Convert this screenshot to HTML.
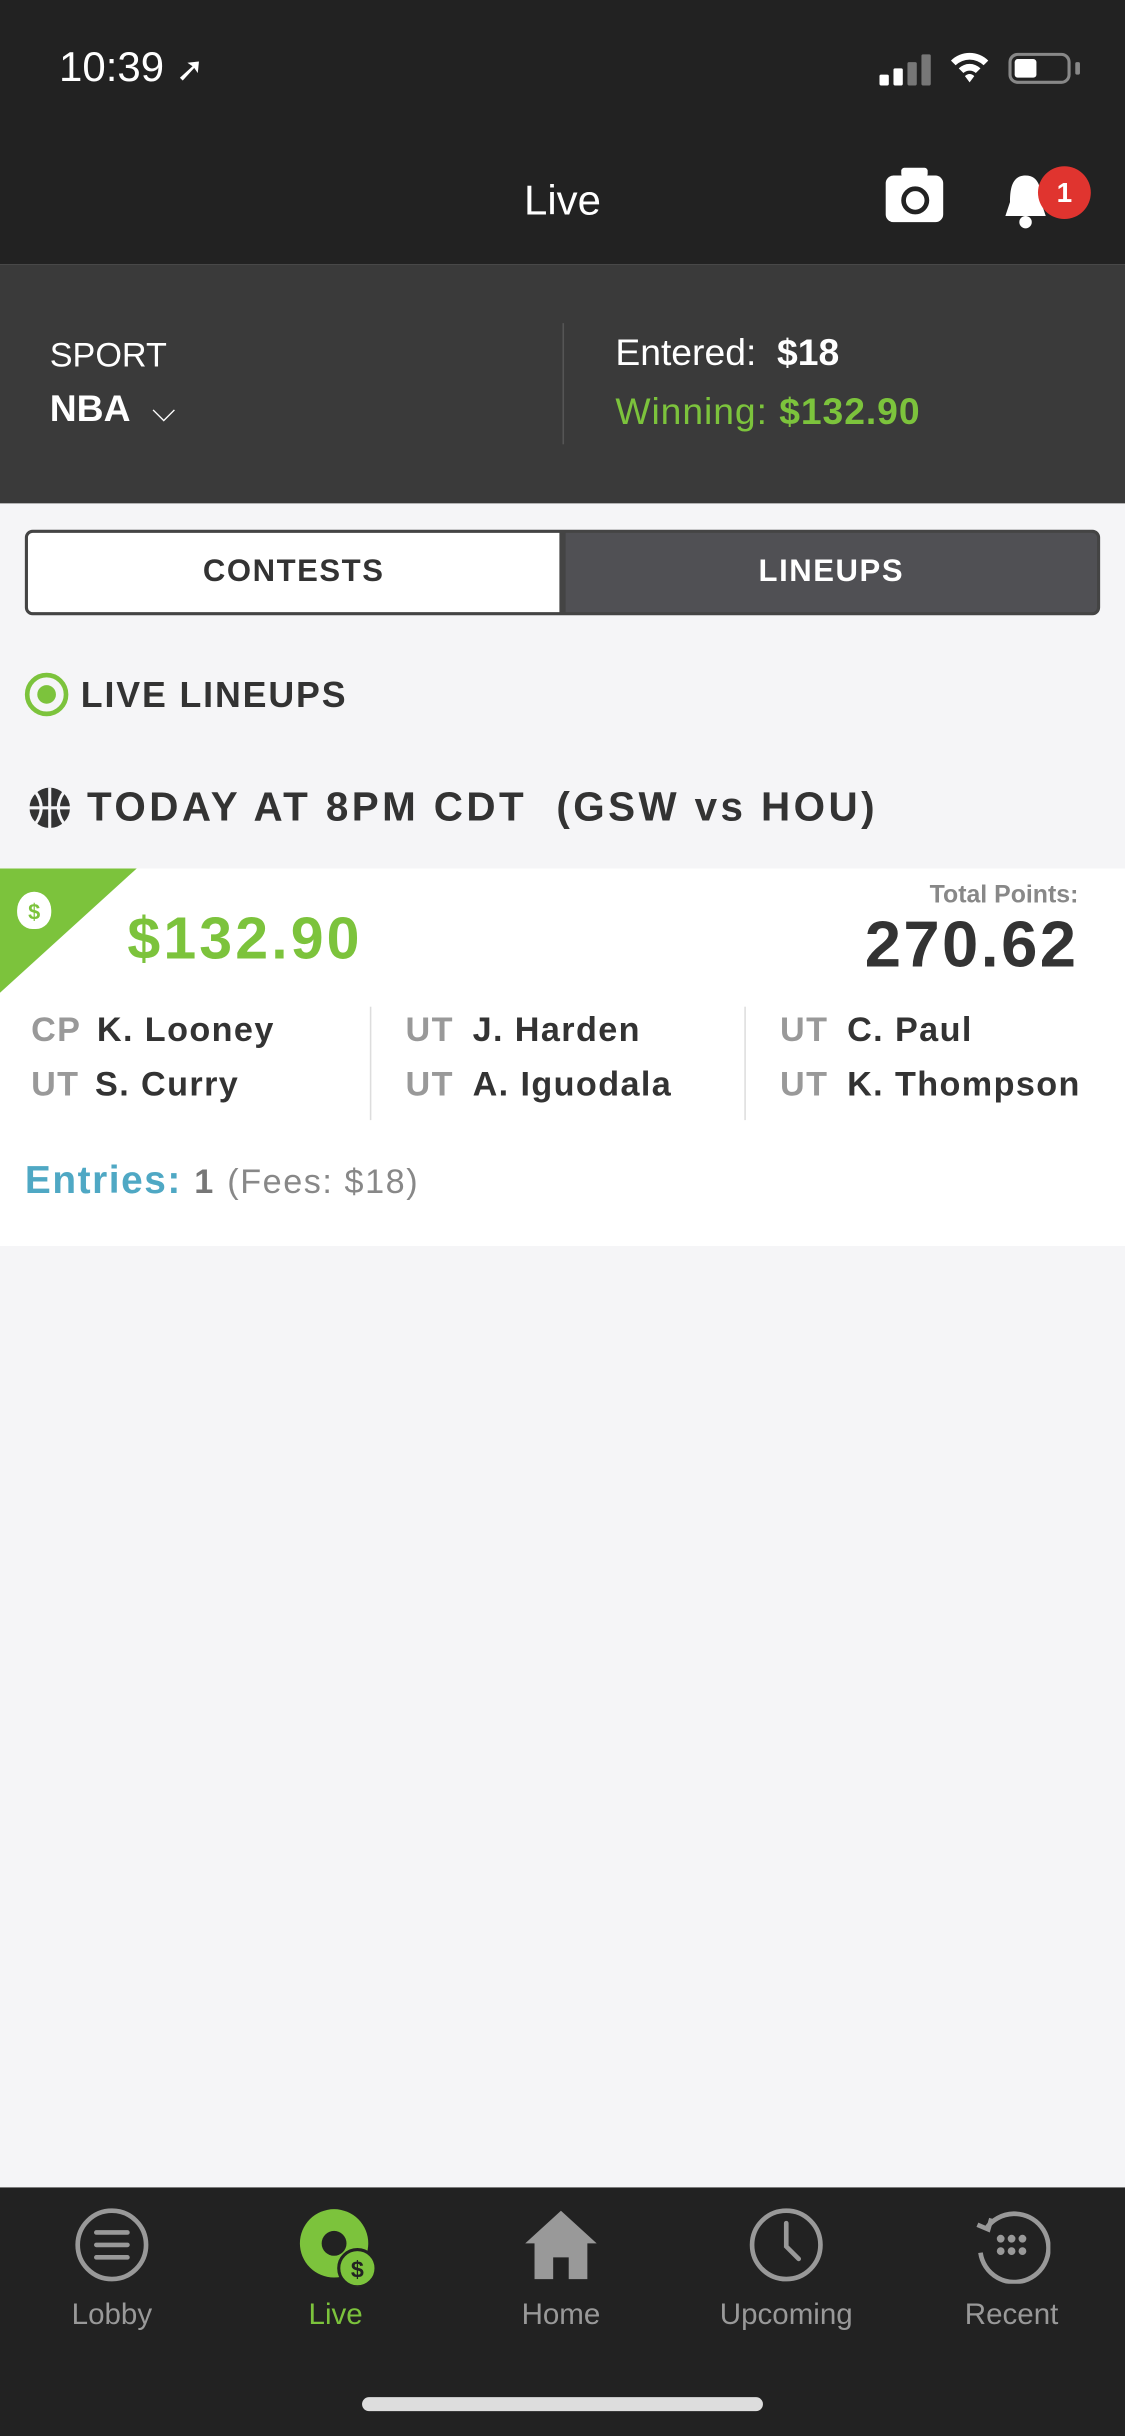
<!DOCTYPE html>
<html><head><meta charset="utf-8">
<style>
html,body{margin:0;padding:0;width:1125px;height:2436px;overflow:hidden;background:#f5f5f7;}
#root{position:absolute;left:0;top:0;width:724px;height:1568px;transform:scale(1.55387,1.55357);transform-origin:0 0;font-family:"Liberation Sans",sans-serif;background:#f5f5f7;}
.abs{position:absolute;}
.b{font-weight:bold;}
</style></head><body>
<div id="root">
  <div class="abs" style="left:0;top:0;width:724px;height:170px;background:#222;"></div>
  <div class="abs" style="left:38px;top:28px;color:#fff;font-size:27px;">10:39 <span style="font-size:22px">➚</span></div>
  <div class="abs" style="left:566px;top:34px;width:36px;height:22px;">
    <div class="abs" style="left:0;top:14px;width:6px;height:7px;background:#fff;border-radius:1px"></div>
    <div class="abs" style="left:9px;top:10px;width:6px;height:11px;background:#fff;border-radius:1px"></div>
    <div class="abs" style="left:18px;top:6px;width:6px;height:15px;background:#777;border-radius:1px"></div>
    <div class="abs" style="left:27px;top:1px;width:6px;height:20px;background:#777;border-radius:1px"></div>
  </div>
  <div class="abs" style="left:610px;top:30px;color:#fff;font-size:24px;">
    <svg width="28" height="24"><path d="M2 9 A17 17 0 0 1 26 9 L23 12 A13 13 0 0 0 5 12Z M7 14 A10 10 0 0 1 21 14 L18 17 A6 6 0 0 0 10 17Z M11 19 L14 23 L17 19 A4 4 0 0 0 11 19Z" fill="#fff"/></svg></div>
  <div class="abs" style="left:649px;top:34px;width:40px;height:20px;border:2px solid #888;border-radius:6px;box-sizing:border-box;">
    <div class="abs" style="left:2px;top:2px;width:14px;height:12px;background:#fff;border-radius:2px"></div>
  </div>
  <div class="abs" style="left:692px;top:40px;width:3px;height:8px;background:#888;border-radius:1px"></div>
  <div class="abs" style="left:0;width:724px;top:114px;text-align:center;color:#fff;font-size:27px;">Live</div>
  <div class="abs" style="left:570px;top:113px;width:37px;height:30px;background:#fff;border-radius:5px;">
    <div class="abs" style="left:10px;top:-5px;width:17px;height:6px;background:#fff;border-radius:2px"></div>
    <div class="abs" style="left:10px;top:7px;width:12px;height:12px;border:3px solid #222;border-radius:50%"></div>
  </div>
  <div class="abs" style="left:644px;top:110px;">
    <svg width="32" height="40"><path d="M16 3 C7 3 6 12 6 20 L3 29 L29 29 L26 20 C26 12 25 3 16 3Z" fill="#fff"/><circle cx="16" cy="33" r="4" fill="#fff"/></svg>
  </div>
  <div class="abs" style="left:668px;top:107px;width:34px;height:34px;border-radius:50%;background:#e0342f;color:#fff;font-size:18px;text-align:center;line-height:34px;font-weight:bold;">1</div>

  <div class="abs" style="left:0;top:170px;width:724px;height:154px;background:#3a3a3a;"></div>
  <div class="abs" style="left:32px;top:216px;color:#fff;font-size:22px;">SPORT</div>
  <div class="abs b" style="left:32px;top:250px;color:#fff;font-size:24px;">NBA <span style="font-weight:normal;font-size:20px;margin-left:8px">&#x2335;</span></div>
  <div class="abs" style="left:362px;top:208px;width:1px;height:78px;background:#555"></div>
  <div class="abs" style="left:396px;top:214px;color:#fff;font-size:24px;">Entered:&nbsp; <b>$18</b></div>
  <div class="abs" style="left:396px;top:252px;color:#7cc33c;font-size:24px;letter-spacing:0.6px;">Winning:&nbsp;<b>$132.90</b></div>

  <div class="abs" style="left:16px;top:341px;width:346px;height:55px;background:#fff;border:2px solid #444;border-radius:5px 0 0 5px;box-sizing:border-box;text-align:center;line-height:51px;font-size:20px;font-weight:bold;color:#333;letter-spacing:1px;">CONTESTS</div>
  <div class="abs" style="left:362px;top:341px;width:346px;height:55px;background:#505054;border:2px solid #444;border-radius:0 5px 5px 0;box-sizing:border-box;text-align:center;line-height:51px;font-size:20px;font-weight:bold;color:#fff;letter-spacing:1px;">LINEUPS</div>

  <div class="abs" style="left:16px;top:433px;width:28px;height:28px;border:3px solid #7cc33c;border-radius:50%;box-sizing:border-box;">
    <div class="abs" style="left:5px;top:5px;width:12px;height:12px;border-radius:50%;background:#7cc33c"></div></div>
  <div class="abs b" style="left:52px;top:434px;font-size:23px;color:#333;letter-spacing:1.2px;">LIVE LINEUPS</div>

  <div class="abs" style="left:17px;top:505px;">
    <svg width="30" height="30"><circle cx="15" cy="15" r="13" fill="#333"/><path d="M2 15 H28 M15 2 V28 M6 5 Q13 15 6 25 M24 5 Q17 15 24 25" stroke="#f5f5f7" stroke-width="2" fill="none"/></svg></div>
  <div class="abs b" style="left:56px;top:504px;font-size:26px;color:#333;letter-spacing:2.2px;white-space:pre;">TODAY AT 8PM CDT  (GSW vs HOU)</div>

  <div class="abs" style="left:0;top:559px;width:724px;height:243px;background:#fff;"></div>
  <div class="abs" style="left:0;top:559px;width:0;height:0;border-top:80px solid #7cc33c;border-right:88px solid transparent;"></div>
  <div class="abs" style="left:11px;top:574px;width:22px;height:24px;background:#fff;border-radius:50% 50% 45% 45%;color:#7cc33c;font-size:14px;font-weight:bold;text-align:center;line-height:26px;">$</div>
  <div class="abs b" style="left:82px;top:584px;font-size:38px;letter-spacing:2px;color:#7cc33c;">$132.90</div>
  <div class="abs b" style="right:30px;top:568px;font-size:16px;color:#888;">Total Points:</div>
  <div class="abs b" style="right:30px;top:584px;font-size:42px;letter-spacing:1.5px;color:#333;">270.62</div>

  <div class="abs" style="left:0;top:648px;font-size:22px;font-weight:bold;color:#333;letter-spacing:0.9px;">
    <div class="abs" style="left:20px;top:2px;white-space:nowrap"><span style="color:#999;margin-right:10px">CP</span>K. Looney</div>
    <div class="abs" style="left:20px;top:37px;white-space:nowrap"><span style="color:#999;margin-right:10px">UT</span>S. Curry</div>
    <div class="abs" style="left:238px;top:0;width:1px;height:73px;background:#ddd"></div>
    <div class="abs" style="left:261px;top:2px;white-space:nowrap"><span style="color:#999;margin-right:12px">UT</span>J. Harden</div>
    <div class="abs" style="left:261px;top:37px;white-space:nowrap"><span style="color:#999;margin-right:12px">UT</span>A. Iguodala</div>
    <div class="abs" style="left:479px;top:0;width:1px;height:73px;background:#ddd"></div>
    <div class="abs" style="left:502px;top:2px;white-space:nowrap"><span style="color:#999;margin-right:12px">UT</span>C. Paul</div>
    <div class="abs" style="left:502px;top:37px;white-space:nowrap"><span style="color:#999;margin-right:12px">UT</span>K. Thompson</div>
  </div>
  <div class="abs" style="left:16px;top:746px;font-size:25px;white-space:nowrap;letter-spacing:1px;">
    <b style="color:#4fa8c4">Entries:</b> <b style="color:#777;font-size:22px">1</b> <span style="color:#888;font-size:22px">(Fees: $18)</span></div>

  <div class="abs" style="left:0;top:1408px;width:724px;height:160px;background:#222;"></div>
  <div class="abs" style="left:22px;top:1420px;width:100px;text-align:center;color:#999;font-size:19px;">
    <svg width="50" height="50"><circle cx="25" cy="25" r="22" stroke="#999" stroke-width="3" fill="none"/><path d="M15 17 H35 M15 25 H35 M15 33 H35" stroke="#999" stroke-width="3" stroke-linecap="round"/></svg><div style="margin-top:4px">Lobby</div></div>
  <div class="abs" style="left:166px;top:1420px;width:100px;text-align:center;color:#7cc33c;font-size:19px;">
    <svg width="60" height="52"><circle cx="29" cy="24" r="22" fill="#7cc33c"/><circle cx="29" cy="24" r="8" fill="#222"/><circle cx="44" cy="40" r="12" fill="#7cc33c" stroke="#222" stroke-width="2"/><text x="44" y="46" font-size="15" font-weight="bold" text-anchor="middle" fill="#222" font-family="Liberation Sans">$</text></svg><div style="margin-top:2px">Live</div></div>
  <div class="abs" style="left:311px;top:1420px;width:100px;text-align:center;color:#999;font-size:19px;">
    <svg width="50" height="50"><path d="M25 3 L48 24 L42 24 L42 47 L30 47 L30 33 L20 33 L20 47 L8 47 L8 24 L2 24Z" fill="#999"/></svg><div style="margin-top:4px">Home</div></div>
  <div class="abs" style="left:446px;top:1420px;width:120px;text-align:center;color:#999;font-size:19px;">
    <svg width="50" height="50"><circle cx="25" cy="25" r="22" stroke="#999" stroke-width="3" fill="none"/><path d="M25 11 V26 L33 34" stroke="#999" stroke-width="3" fill="none" stroke-linecap="round"/></svg><div style="margin-top:4px">Upcoming</div></div>
  <div class="abs" style="left:601px;top:1420px;width:100px;text-align:center;color:#999;font-size:19px;">
    <svg width="50" height="50"><path d="M9 14 A22 22 0 1 1 5 30" stroke="#999" stroke-width="3" fill="none"/><path d="M3 12 L10 15 L12 8" stroke="#999" stroke-width="3" fill="none"/><circle cx="18" cy="21" r="2.5" fill="#999"/><circle cx="25" cy="21" r="2.5" fill="#999"/><circle cx="32" cy="21" r="2.5" fill="#999"/><circle cx="18" cy="29" r="2.5" fill="#999"/><circle cx="25" cy="29" r="2.5" fill="#999"/><circle cx="32" cy="29" r="2.5" fill="#999"/></svg><div style="margin-top:4px">Recent</div></div>
  <div class="abs" style="left:233px;top:1543px;width:258px;height:9px;border-radius:5px;background:#ddd;"></div>
</div>
</body></html>
